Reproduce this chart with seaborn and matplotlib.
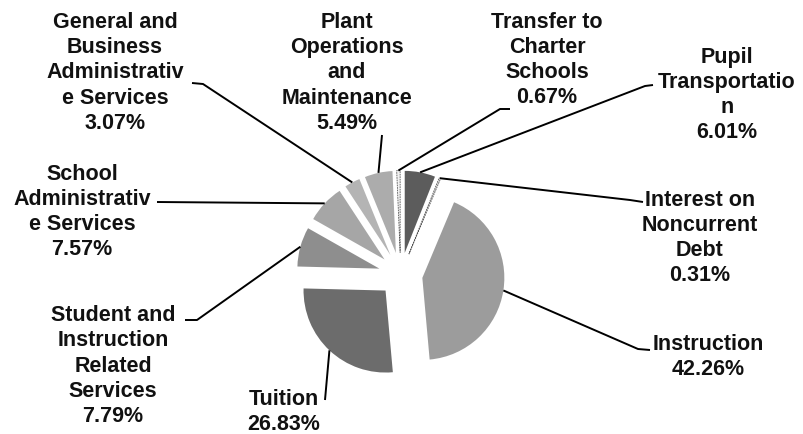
import numpy as np
import matplotlib
matplotlib.use("Agg")
import matplotlib.pyplot as plt
import seaborn as sns

# Expenditure shares (%) clockwise from 12 o'clock
categories = [
    "Pupil\nTransportatio\nn",
    "Interest on\nNoncurrent\nDebt",
    "Instruction",
    "Tuition",
    "Student and\nInstruction\nRelated\nServices",
    "School\nAdministrativ\ne Services",
    "General and\nBusiness\nAdministrativ\ne Services",
    "Plant\nOperations\nand\nMaintenance",
    "Transfer to\nCharter\nSchools",
]
shares = [6.01, 0.31, 42.26, 26.83, 7.79, 7.57, 3.07, 5.49, 0.67]
grays = ["#5c5c5c", "#e4e4e4", "#9c9c9c", "#6c6c6c", "#8e8e8e",
         "#a6a6a6", "#b4b4b4", "#acacac", "#f2f2f2"]

# label layout in pixel space (image y measured from top): text centre, elbow
label_pos = [(727, 95), (700, 238), (708, 357), (284, 412), (113, 366),
             (82, 212), (115, 73), (347, 73), (547, 60)]
elbows = [[(653, 85), (645, 86)],
          [(643, 202), (630, 200)],
          [(650, 350), (638, 349)],
          [(325, 400)],
          [(185, 320), (197, 320)],
          [(157, 202)],
          [(192, 83), (203, 84)],
          [(382, 135)],
          [(510, 109), (500, 109)]]

W, H = 804, 434
sns.set_theme(style="white")
plt.rcParams["font.family"] = ["Liberation Sans", "DejaVu Sans"]

fig = plt.figure(figsize=(W / 100, H / 100), dpi=100)
ax = fig.add_axes([0, 0, 1, 1])

center = (400.6, H - 274.5)
radius = 82
explode_px = 22   # pie explode is in data units (pixels here)

wedges, _ = ax.pie(shares, colors=grays, startangle=90, counterclock=False,
                   explode=[explode_px] * len(shares), radius=radius,
                   center=center, frame=True,
                   wedgeprops=dict(linewidth=0))
ax.set_xlim(0, W)
ax.set_ylim(0, H)
ax.set_aspect("equal")
ax.axis("off")

for i in (1, 8):
    wedges[i].set_edgecolor("#555555")
    wedges[i].set_linewidth(0.6)
    wedges[i].set_linestyle((0, (2, 1)))

for w, lab, share, (tx, ty), pts in zip(wedges, categories, shares,
                                        label_pos, elbows):
    mid = np.deg2rad((w.theta1 + w.theta2) / 2)
    ax_x = w.center[0] + radius * np.cos(mid)
    ax_y = w.center[1] + radius * np.sin(mid)
    xs = [p[0] for p in pts] + [ax_x]
    ys = [H - p[1] for p in pts] + [ax_y]
    ax.plot(xs, ys, color="black", lw=1.4, solid_capstyle="butt")
    ax.text(tx, H - ty, f"{lab}\n{share:.2f}%", ha="center", va="center",
            fontsize=15.5, fontweight="bold", linespacing=1.27, color="#111111")

fig.savefig("out.png", dpi=100)
